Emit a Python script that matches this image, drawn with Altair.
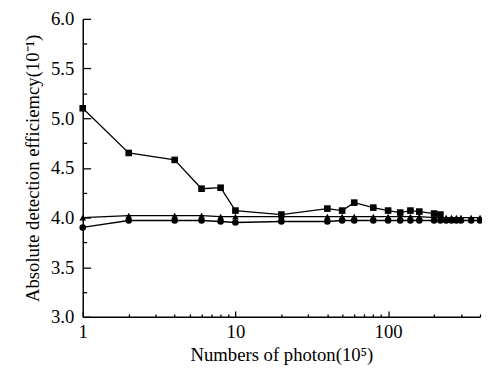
import altair as alt
import pandas as pd

# ---- data ----
sq_x = [1, 2, 4, 6, 8, 10, 20, 40, 50, 60, 80, 100, 120, 140, 160, 200, 220]
sq_y = [5.10, 4.65, 4.58, 4.29, 4.30, 4.07, 4.03, 4.09, 4.07, 4.15, 4.10, 4.07, 4.05, 4.07, 4.06, 4.04, 4.03]

tri_x = [1, 2, 4, 6, 8, 10, 20, 40, 50, 60, 80, 100, 120, 140, 160, 200, 220, 240, 260, 280, 300, 350, 400]
tri_y = [4.00, 4.02, 4.02, 4.02, 4.01, 4.01, 4.01, 4.01, 4.01, 4.01, 4.01, 4.01, 4.01, 4.01, 4.01,
         4.00, 4.00, 4.00, 4.00, 4.00, 4.00, 4.00, 4.00]

cir_x = [1, 2, 4, 6, 8, 10, 20, 40, 50, 60, 80, 100, 120, 140, 160, 200, 220, 240, 260, 280, 300, 350, 400]
cir_y = [3.90, 3.97, 3.97, 3.97, 3.96, 3.95, 3.96, 3.96, 3.97, 3.97, 3.97, 3.97, 3.97, 3.97, 3.97,
         3.97, 3.97, 3.97, 3.97, 3.97, 3.97, 3.97, 3.97]

x_major = [1, 10, 100]
x_minor = [2, 3, 4, 5, 6, 7, 8, 9, 20, 30, 40, 50, 60, 70, 80, 90, 200, 300, 400]
y_major = [3.0, 3.5, 4.0, 4.5, 5.0, 5.5, 6.0]
y_minor = [3.25, 3.75, 4.25, 4.75, 5.25, 5.75]

x_title = "Numbers of photon(10\u2075)"
y_title = "Absolute detection efficiemcy(10\u207b\u00b9)"

rows = []
for name, xs, ys in [("square", sq_x, sq_y), ("circle", cir_x, cir_y), ("triangle", tri_x, tri_y)]:
    for a, b in zip(xs, ys):
        rows.append({"series": name, "x": a, "y": b})
df = pd.DataFrame(rows)

W, H = 404, 303
FONT = "Liberation Serif"

xscale = alt.Scale(type="log", domain=[1, 400], nice=False)
yscale = alt.Scale(domain=[3, 6], nice=False, zero=False)

common = dict(grid=False, labelFont=FONT, labelFontSize=19, labelColor="black",
              titleFont=FONT, titleFontSize=19, titleFontWeight="normal", titleColor="black",
              domainColor="black", domainWidth=1.5, tickColor="black", tickWidth=1.3)

# major axes: labels, domain and inward major ticks (negative size via expression)
xaxis = alt.Axis(values=x_major, format="d", labelFlush=False, title=x_title,
                 tickSize={"expr": "-6"}, labelPadding=12, titlePadding=4, **common)
yaxis = alt.Axis(values=y_major, format=".1f", title=y_title,
                 tickSize={"expr": "-8"}, labelPadding=17, titlePadding=8, **common)
# minor axes: inward short ticks only
xaxis_min = alt.Axis(values=x_minor, labels=False, domain=False, title=None,
                     tickSize={"expr": "-3"}, **common)
yaxis_min = alt.Axis(values=y_minor, labels=False, domain=False, title=None,
                     tickSize={"expr": "-4"}, **common)

base = alt.Chart(df)

lines = base.mark_line(color="black", strokeWidth=1.3).encode(
    x=alt.X("x:Q", scale=xscale, axis=xaxis),
    y=alt.Y("y:Q", scale=yscale, axis=yaxis),
    detail="series:N",
)

points = base.mark_point(filled=True, opacity=1, color="black", size=45).encode(
    x=alt.X("x:Q", scale=xscale, axis=xaxis_min),
    y=alt.Y("y:Q", scale=yscale, axis=yaxis_min),
    shape=alt.Shape("series:N",
                    scale=alt.Scale(domain=["square", "circle", "triangle"],
                                    range=["square", "circle", "triangle-up"]),
                    legend=None),
)

xaxis_min.orient = "bottom"
yaxis_min.orient = "left"

chart = alt.layer(lines, points).resolve_axis(x="independent", y="independent").properties(
    width=W, height=H,
    autosize=alt.AutoSizeParams(type="none"),
    padding={"left": 76, "top": 8, "right": 2, "bottom": 52},
).configure_view(stroke=None)

chart.save("out.html", embed_options={"renderer": "svg", "actions": False})
